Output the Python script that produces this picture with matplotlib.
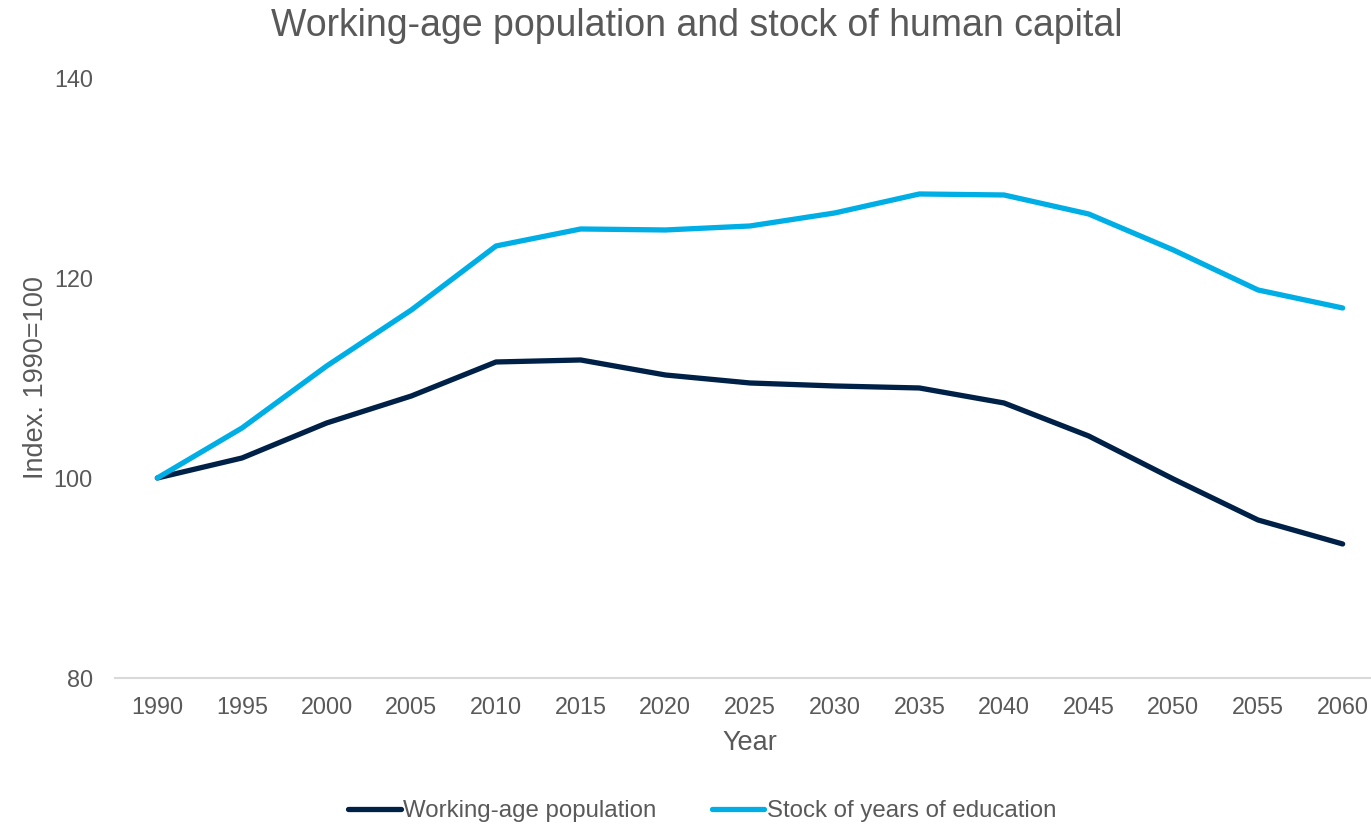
import matplotlib.pyplot as plt

plt.rcParams['font.family'] = ['Liberation Sans', 'DejaVu Sans']

years = ['1990', '1995', '2000', '2005', '2010', '2015', '2020', '2025',
         '2030', '2035', '2040', '2045', '2050', '2055', '2060']
working_age = [100.0, 102.0, 105.5, 108.2, 111.6, 111.8, 110.3, 109.5,
               109.2, 109.0, 107.5, 104.2, 99.9, 95.8, 93.4]
education = [100.0, 105.0, 111.2, 116.8, 123.2, 124.9, 124.8, 125.2,
             126.5, 128.4, 128.3, 126.4, 122.8, 118.8, 117.0]

grey = '#595959'
fig = plt.figure(figsize=(13.71, 8.26), dpi=100)
ax = fig.add_axes([0.0839, 0.1792, 0.9263, 0.7264])

x = range(len(years))
ax.plot(x, working_age, color='#002147', lw=3.8, solid_capstyle='round',
        label='Working-age population')
ax.plot(x, education, color='#00AEE6', lw=3.8, solid_capstyle='round',
        label='Stock of years of education')

ax.set_xlim(-0.5, len(years) - 0.5)
ax.set_ylim(80, 140)
ax.set_yticks([80, 100, 120, 140])
ax.set_xticks(list(x))
ax.set_xticklabels(years)
ax.tick_params(axis='both', length=0, labelsize=16.8, colors=grey)
ax.tick_params(axis='y', pad=16)
ax.tick_params(axis='x', pad=13)

for side in ['top', 'right', 'left']:
    ax.spines[side].set_visible(False)
ax.spines['bottom'].set_color('#d9d9d9')
ax.spines['bottom'].set_linewidth(1.5)

ax.set_xlabel('Year', fontsize=19.5, color=grey, labelpad=8)
ax.set_ylabel('Index. 1990=100', fontsize=19.5, color=grey, labelpad=3)

fig.text(0.508, 0.968, 'Working-age population and stock of human capital',
         ha='center', va='center', fontsize=27, color=grey)

fig.legend(loc='center', bbox_to_anchor=(0.512, 0.018), ncol=2, frameon=False,
           fontsize=17.3, handlelength=2.2, handletextpad=0.1,
           columnspacing=2.3, labelcolor=grey)

fig.savefig('out.png', dpi=100)
